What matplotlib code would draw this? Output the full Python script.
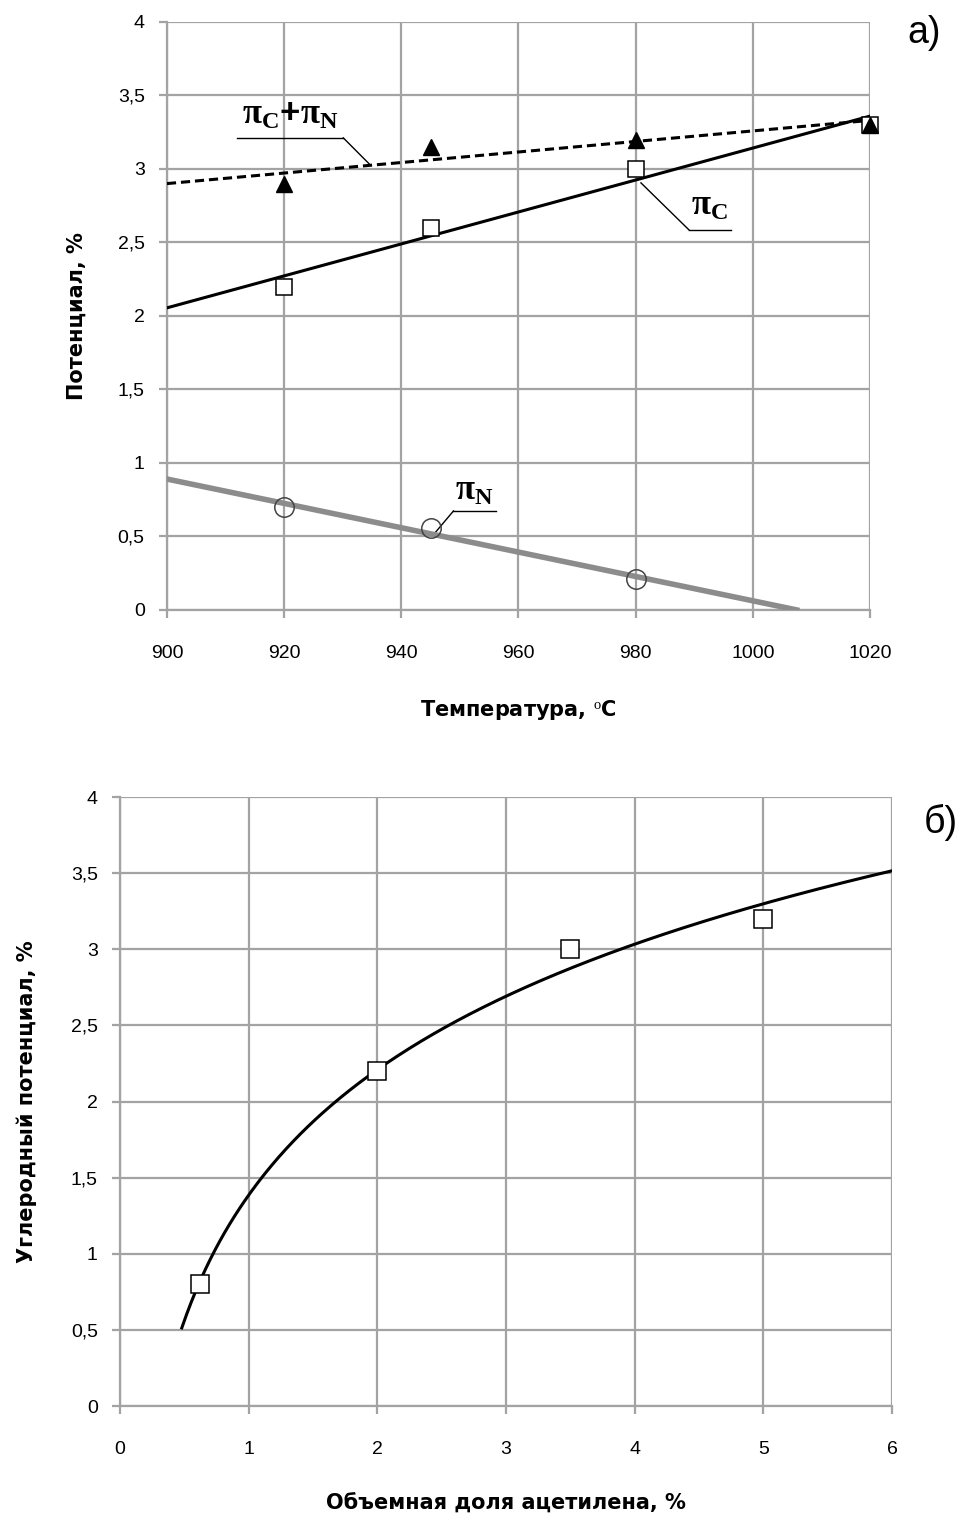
import numpy as np
import matplotlib.pyplot as plt
from matplotlib.ticker import FuncFormatter

plt.rcParams['font.family'] = ['Liberation Sans', 'DejaVu Sans']
plt.rcParams['mathtext.fontset'] = 'custom'
plt.rcParams['mathtext.rm'] = 'Liberation Serif'
plt.rcParams['mathtext.it'] = 'Liberation Serif:italic'
plt.rcParams['mathtext.bf'] = 'Liberation Serif:bold'

# panel a) - temperature
temp = [920, 945, 980, 1020]
pi_c = [2.2, 2.6, 3.0, 3.3]
pi_cn = [2.9, 3.15, 3.2, 3.3]
temp_n = [920, 945, 980]
pi_n = [0.7, 0.56, 0.21]

# panel б) - acetylene
acet = [0.62, 2.0, 3.5, 5.0]
pi_acet = [0.8, 2.2, 3.0, 3.2]

grid_col = '#a3a3a3'
comma = FuncFormatter(lambda v, p: ('%g' % v).replace('.', ','))


def style_axes(ax):
    ax.grid(True, color=grid_col, lw=1.6)
    ax.set_axisbelow(True)
    for s in ['top', 'right']:
        ax.spines[s].set_visible(False)
    for s in ['left', 'bottom']:
        ax.spines[s].set_color(grid_col)
        ax.spines[s].set_linewidth(1.6)
    ax.tick_params(color=grid_col, width=1.6, length=6, labelsize=14, pad=10)
    ax.tick_params(axis='x', pad=19)
    ax.yaxis.set_major_formatter(comma)


fig = plt.figure(figsize=(9.65, 15.21), dpi=100)

# ---- a) ----
ax1 = fig.add_axes([0.173, 0.599, 0.7286, 0.3866])
xs = np.array([900, 1020])
k, b = np.polyfit(temp, pi_c, 1)
ax1.plot(xs, k * xs + b, color='black', lw=2.2, zorder=3)
k, b = np.polyfit(temp, pi_cn, 1)
ax1.plot(xs, k * xs + b, color='black', lw=2.2, ls=(0, (3, 1.6)), zorder=3)
k, b = np.polyfit(temp_n, pi_n, 1)
xn = np.array([900, -b / k])
ax1.plot(xn, k * xn + b, color='#8c8c8c', lw=4, zorder=3)

ax1.plot(temp, pi_c, 's', ms=12, mfc='white', mec='black', mew=1.1, zorder=4, clip_on=False)
ax1.plot(temp, pi_cn, '^', ms=11, color='black', zorder=5, clip_on=False)
ax1.plot(temp_n, pi_n, 'o', ms=14, mfc='none', mec='#444444', mew=1.1, zorder=4, clip_on=False)

ax1.set_xlim(900, 1020)
ax1.set_ylim(0, 4)
ax1.set_xticks(np.arange(900, 1021, 20))
ax1.set_yticks(np.arange(0, 4.01, 0.5))
style_axes(ax1)
ax1.set_xlabel('Температура, $^{\\mathrm{o}}$C', fontsize=15, fontweight='bold',
               family='DejaVu Sans', labelpad=26)
ax1.set_ylabel('Потенциал, %', fontsize=15, fontweight='bold',
               family='DejaVu Sans', labelpad=22)

# leader lines and labels
ax1.plot([930.1, 912.0], [3.211, 3.211], color='black', lw=1)
ax1.plot([930.1, 934.7], [3.211, 3.027], color='black', lw=1)
ax1.text(921, 3.37, r'$\mathbf{\pi_{C}}$+$\mathbf{\pi_{N}}$', fontsize=25,
         fontweight='bold', ha='center', va='center')
ax1.plot([989.1, 996.2], [2.585, 2.585], color='black', lw=1)
ax1.plot([989.1, 980.9], [2.585, 2.905], color='black', lw=1)
ax1.text(992.6, 2.75, r'$\mathbf{\pi_{C}}$', fontsize=25, ha='center', va='center')
ax1.plot([948.9, 956.1], [0.673, 0.673], color='black', lw=1)
ax1.plot([948.9, 945.3], [0.673, 0.503], color='black', lw=1)
ax1.text(952.5, 0.81, r'$\mathbf{\pi_{N}}$', fontsize=25, ha='center', va='center')

fig.text(0.958, 0.978, 'а)', fontsize=27, ha='center', va='center')

# ---- б) ----
ax2 = fig.add_axes([0.1244, 0.0756, 0.8, 0.4004])
a, c = np.polyfit(np.log(acet), pi_acet, 1)
xc = np.linspace(0.48, 6, 300)
ax2.plot(xc, a * np.log(xc) + c, color='black', lw=2.2, zorder=3)
ax2.plot(acet, pi_acet, 's', ms=13, mfc='white', mec='black', mew=1.1, zorder=4)
ax2.set_xlim(0, 6)
ax2.set_ylim(0, 4)
ax2.set_xticks(np.arange(0, 7, 1))
ax2.set_yticks(np.arange(0, 4.01, 0.5))
style_axes(ax2)
ax2.set_xlabel('Объемная доля ацетилена, %', fontsize=15, fontweight='bold',
               family='DejaVu Sans', labelpad=26)
ax2.set_ylabel('Углеродный потенциал, %', fontsize=15, fontweight='bold',
               family='DejaVu Sans', labelpad=24)
fig.text(0.975, 0.459, 'б)', fontsize=27, ha='center', va='center')

fig.savefig('out.png', dpi=100)
